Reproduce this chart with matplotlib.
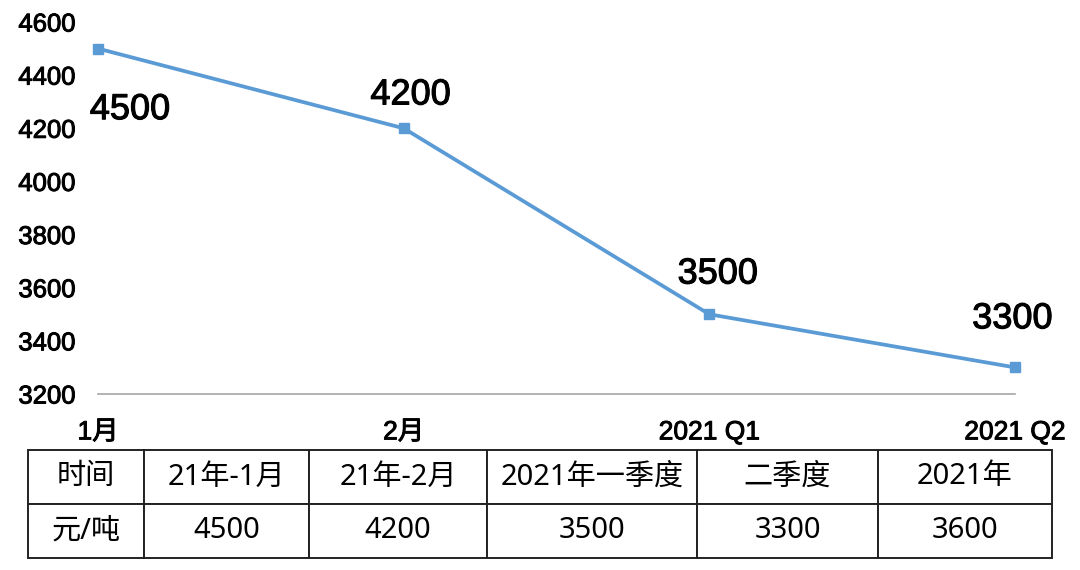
import matplotlib
matplotlib.use('Agg')
import matplotlib.pyplot as plt
import matplotlib.patheffects as pe

plt.rcParams['font.family'] = ['Liberation Sans', 'Noto Sans CJK SC', 'DejaVu Sans']

# chart data
periods = ['1月', '2月', '2021 Q1', '2021 Q2']
prices = [4500, 4200, 3500, 3300]
y_ticks = [3200, 3400, 3600, 3800, 4000, 4200, 4400, 4600]

# table data
table_header = ['时间', '21年-1月', '21年-2月', '2021年一季度', '二季度', '2021年']
table_values = ['元/吨', '4500', '4200', '3500', '3300', '3600']

# label offsets in points (dx, dy)
label_offsets = [(23, -44), (5, 24), (6, 29), (-2, 35)]

W, H = 1080, 570
fig = plt.figure(figsize=(W / 100, H / 100), dpi=100)

# slightly heavier text, like the medium weight in the original
medium = [pe.withStroke(linewidth=0.7, foreground='black')]

# line chart axes, placed in pixels
ax = fig.add_axes([98 / W, 176 / H, 917 / W, 372 / H])
x = list(range(len(periods)))
ax.plot(x, prices, color='#5b9bd5', lw=2.7, marker='s', ms=6.5, clip_on=False)
ax.set_xlim(0, len(periods) - 1)
ax.set_ylim(y_ticks[0], y_ticks[-1])
ax.set_yticks(y_ticks)
ax.set_yticklabels([str(v) for v in y_ticks], fontsize=18.5)
ax.set_xticks(x)
ax.set_xticklabels(periods, fontsize=19)
ax.tick_params(axis='y', length=0, pad=16)
ax.tick_params(axis='x', length=0, pad=19)
for lab in ax.get_yticklabels() + ax.get_xticklabels():
    lab.set_path_effects(medium)
for s in ['top', 'right', 'left']:
    ax.spines[s].set_visible(False)
ax.spines['bottom'].set_color('#a6a6a6')
ax.spines['bottom'].set_linewidth(1.2)

for xi, v, off in zip(x, prices, label_offsets):
    ax.annotate(str(v), (xi, v), xytext=off, textcoords='offset points',
                ha='center', va='center', fontsize=26, annotation_clip=False,
                path_effects=[pe.withStroke(linewidth=0.8, foreground='black')])

# table below the chart
tax = fig.add_axes([28 / W, (H - 558) / H, 1024 / W, 108 / H])
tax.axis('off')
col_w = [116, 165, 178, 210, 181, 174]
tot = sum(col_w)
tbl = tax.table(cellText=[table_header, table_values], cellLoc='center',
                colWidths=[c / tot for c in col_w], bbox=[0, 0, 1, 1])
tbl.auto_set_font_size(False)
for (r, c), cell in tbl.get_celld().items():
    cell.set_edgecolor('#222222')
    cell.set_linewidth(1.4)
    t = cell.get_text()
    t.set_fontsize(21)
    t.set_family(['Noto Sans', 'Noto Sans CJK SC'])

fig.savefig('out.png', dpi=100)
